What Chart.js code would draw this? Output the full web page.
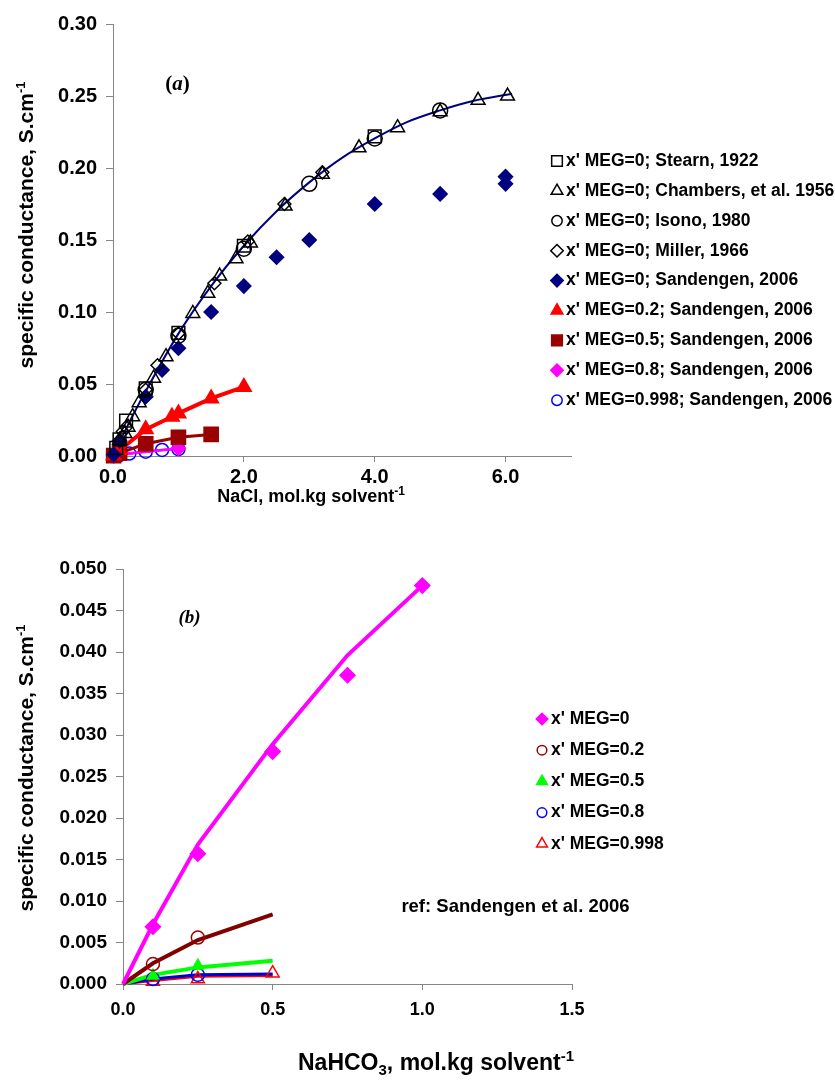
<!DOCTYPE html>
<html>
<head>
<meta charset="utf-8">
<title>Specific conductance of NaCl and NaHCO3 in MEG/water</title>
<script src="https://cdn.jsdelivr.net/npm/chart.js@4.4.1/dist/chart.umd.min.js"></script>
<style>
  body { margin: 0; background: #fff; }
  .panel { position: absolute; left: 0; }
  #panelA { top: 0; }
  #panelB { top: 540px; }
</style>
</head>
<body>
<div class="panel" id="panelA"><canvas id="naclChart" width="835" height="530"></canvas></div>
<div class="panel" id="panelB"><canvas id="bicarbChart" width="835" height="544"></canvas></div>
<script>
// ---- (a) NaCl, x' MEG = 0 literature data ----
const stearnX = [0.05, 0.1, 0.2, 0.5, 1.0, 2.0, 4.0];
const stearnY = [0.0056, 0.0115, 0.0245, 0.047, 0.0855, 0.146, 0.222];
const chambersX = [0.1, 0.18, 0.23, 0.3, 0.4, 0.62, 0.81, 1.22, 1.45, 1.63, 1.88, 2.1, 2.63, 3.2, 3.76, 4.35, 5.0, 5.58, 6.03];
const chambersY = [0.011, 0.0157, 0.020, 0.0273, 0.037, 0.054, 0.069, 0.099, 0.113, 0.125, 0.137, 0.148, 0.1736, 0.1956, 0.214, 0.228, 0.239, 0.247, 0.250];
const isonoX = [0.5, 1.0, 2.0, 3.0, 4.0, 5.0];
const isonoY = [0.046, 0.0835, 0.144, 0.189, 0.2205, 0.240];
const millerX = [0.15, 0.2, 0.5, 0.68, 1.0, 1.55, 2.06, 2.62, 3.2];
const millerY = [0.017, 0.020, 0.046, 0.063, 0.085, 0.120, 0.149, 0.175, 0.197];

// ---- (a) NaCl, Sandengen 2006 ----
const sandMeg0X = [0.01, 0.1, 0.5, 0.75, 1.0, 1.5, 2.0, 2.5, 3.0, 4.0, 5.0, 6.0, 6.0];
const sandMeg0Y = [0.001, 0.0106, 0.0412, 0.0597, 0.0748, 0.100, 0.118, 0.138, 0.150, 0.175, 0.182, 0.194, 0.189];
const sandMeg02X = [0.01, 0.1, 0.5, 0.9, 1.0, 1.5, 2.0];
const sandMeg02Y = [0.0005, 0.004, 0.0185, 0.0273, 0.0296, 0.040, 0.048];
const sandMeg05X = [0.01, 0.1, 0.5, 1.0, 1.5];
const sandMeg05Y = [0.0003, 0.002, 0.0085, 0.013, 0.015];
const sandMeg08X = [0.01, 0.05, 1.0];
const sandMeg08Y = [0.0001, 0.0008, 0.0053];
const sandMeg0998X = [0.01, 0.1, 0.25, 0.5, 0.75, 1.0];
const sandMeg0998Y = [0.0001, 0.0006, 0.0017, 0.003, 0.0042, 0.0048];

// smooth curve through the MEG-free data
const naclFitX = [0, 0.25, 0.5, 1.0, 1.5, 2.0, 2.5, 3.0, 3.5, 4.0, 4.5, 5.0, 5.5, 6.1];
const naclFitY = [0, 0.0235, 0.045, 0.085, 0.118, 0.146, 0.170, 0.190, 0.207, 0.2205, 0.232, 0.240, 0.2465, 0.2515];

// ---- (b) NaHCO3, Sandengen 2006 ----
const hco3Meg0X = [0.1, 0.25, 0.5, 0.75, 1.0];
const hco3Meg0Y = [0.0069, 0.0157, 0.0280, 0.0372, 0.0480];
const hco3SmallX = [0.1, 0.25];
const hco3Meg02Y = [0.0024, 0.0056];
const hco3Meg05Y = [0.0010, 0.0022];
const hco3Meg08Y = [0.0006, 0.0011];
const hco3Meg0998X = [0.1, 0.25, 0.5];
const hco3Meg0998Y = [0.0003, 0.0006, 0.0013];

// model lines for (b)
const hco3Line0X = [0, 0.1, 0.25, 0.5, 0.75, 1.0];
const hco3Line0Y = [0, 0.0072, 0.0168, 0.0289, 0.0396, 0.0480];
const hco3LineX = [0, 0.1, 0.25, 0.5];
const hco3Line02Y = [0, 0.0025, 0.0053, 0.0084];
const hco3Line05Y = [0, 0.0011, 0.0020, 0.0028];
const hco3Line08Y = [0, 0.0006, 0.0011, 0.0012];
const hco3Line0998Y = [0, 0.0004, 0.0009, 0.0010];

const SANS = "'Liberation Sans', Arial, sans-serif";
const SERIF = "'Liberation Serif', 'Times New Roman', serif";
const AXIS_GREY = '#868686';

Chart.defaults.font.family = SANS;
Chart.defaults.color = '#000';

const zip = (xs, ys) => xs.map((x, i) => ({ x, y: ys[i] }));

// marker-only series (open markers have a transparent fill)
const markers = (label, xs, ys, style, radius, fill, stroke) => ({
  label,
  data: zip(xs, ys),
  showLine: false,
  pointStyle: style,
  pointRadius: radius,
  pointBackgroundColor: fill,
  pointBorderColor: stroke,
  pointBorderWidth: 1.5,
  clip: false
});

// series drawn with markers joined by straight segments
const markersWithLine = (label, xs, ys, style, radius, color, width) => ({
  ...markers(label, xs, ys, style, radius, color, color),
  showLine: true,
  borderColor: color,
  borderWidth: width,
  tension: 0
});

// plain line without markers, not listed in the legend
const plainLine = (xs, ys, color, width, smooth) => ({
  label: '',
  data: zip(xs, ys),
  showLine: true,
  pointRadius: 0,
  borderColor: color,
  borderWidth: width,
  cubicInterpolationMode: smooth ? 'monotone' : 'default',
  tension: 0,
  clip: false
});

// legend markers are drawn a little larger for squares/diamonds/triangles
const legendScale = { rect: 1.45, rectRot: 1.2, triangle: 1.3, circle: 1 };

// legend with markers to the right of the plot area
const sideLegend = {
  id: 'sideLegend',
  afterDraw(chart, args, opts) {
    const ctx = chart.ctx;
    ctx.save();
    ctx.font = opts.font;
    ctx.textBaseline = 'middle';
    ctx.textAlign = 'left';
    let y = opts.top;
    chart.data.datasets.forEach(ds => {
      if (!ds.label) return;
      ctx.fillStyle = ds.pointBackgroundColor;
      ctx.strokeStyle = ds.pointBorderColor;
      ctx.lineWidth = 1.5;
      const r = opts.radius * (legendScale[ds.pointStyle] || 1);
      Chart.helpers.drawPoint(ctx, { pointStyle: ds.pointStyle, radius: r, rotation: 0, borderWidth: 1.5 }, opts.markerX, y);
      ctx.fillStyle = '#000';
      ctx.fillText(ds.label, opts.textX, y);
      y += opts.rowGap;
    });
    ctx.restore();
  }
};

// free text placed at data coordinates, made of differently styled parts
const textNotes = {
  id: 'textNotes',
  afterDraw(chart, args, opts) {
    const { ctx, scales } = chart;
    ctx.save();
    ctx.fillStyle = '#000';
    ctx.textBaseline = 'middle';
    ctx.textAlign = 'left';
    (opts.items || []).forEach(note => {
      let px = scales.x.getPixelForValue(note.x);
      const py = scales.y.getPixelForValue(note.y);
      note.parts.forEach(part => {
        ctx.font = part.font;
        ctx.fillText(part.text, px, py);
        px += ctx.measureText(part.text).width;
      });
    });
    ctx.restore();
  }
};

// axis titles with real super/subscripts; cx/cy is the centre of the title
const axisTitles = {
  id: 'axisTitles',
  afterDraw(chart, args, opts) {
    const ctx = chart.ctx;
    (opts.items || []).forEach(t => {
      ctx.save();
      ctx.translate(t.cx, t.cy);
      ctx.rotate(t.rotation || 0);
      ctx.fillStyle = '#000';
      ctx.textAlign = 'left';
      ctx.textBaseline = 'alphabetic';
      let total = 0;
      t.parts.forEach(p => {
        ctx.font = 'bold ' + p.size + 'px ' + SANS;
        total += ctx.measureText(p.text).width;
      });
      let x = -total / 2;
      const base = t.size * 0.36;
      t.parts.forEach(p => {
        ctx.font = 'bold ' + p.size + 'px ' + SANS;
        ctx.fillText(p.text, x, base - (p.rise || 0));
        x += ctx.measureText(p.text).width;
      });
      ctx.restore();
    });
  }
};

const axisStyle = {
  grid: { drawOnChartArea: false, drawTicks: true, tickLength: 6, color: AXIS_GREY, tickColor: AXIS_GREY },
  border: { display: true, color: AXIS_GREY, width: 1 }
};

const condTitle = (cx, cy) => ({
  cx, cy, size: 21, rotation: -Math.PI / 2,
  parts: [{ text: 'specific conductance, S.cm', size: 21 }, { text: '-1', size: 13, rise: 8 }]
});

// (a) NaCl
new Chart(document.getElementById('naclChart'), {
  type: 'scatter',
  data: {
    datasets: [
      markers("x' MEG=0; Stearn, 1922", stearnX, stearnY, 'rect', 9, 'transparent', '#000'),
      markers("x' MEG=0; Chambers, et al. 1956", chambersX, chambersY, 'triangle', 8, 'transparent', '#000'),
      markers("x' MEG=0; Isono, 1980", isonoX, isonoY, 'circle', 7.5, 'transparent', '#000'),
      markers("x' MEG=0; Miller, 1966", millerX, millerY, 'rectRot', 6.5, 'transparent', '#000'),
      markers("x' MEG=0; Sandengen, 2006", sandMeg0X, sandMeg0Y, 'rectRot', 7, '#000080', '#000080'),
      markersWithLine("x' MEG=0.2; Sandengen, 2006", sandMeg02X, sandMeg02Y, 'triangle', 8.5, '#ff0000', 4),
      markersWithLine("x' MEG=0.5; Sandengen, 2006", sandMeg05X, sandMeg05Y, 'rect', 10, '#990000', 3),
      markersWithLine("x' MEG=0.8; Sandengen, 2006", sandMeg08X, sandMeg08Y, 'rectRot', 7, '#ff00ff', 3),
      { ...markersWithLine("x' MEG=0.998; Sandengen, 2006", sandMeg0998X, sandMeg0998Y, 'circle', 6.5, '#0000ff', 2),
        pointBackgroundColor: 'transparent' },
      plainLine(naclFitX, naclFitY, '#000080', 2, true)
    ]
  },
  options: {
    responsive: false,
    animation: false,
    devicePixelRatio: 1,
    events: [],
    layout: { padding: { top: 24, right: 264, bottom: 0, left: 0 } },
    plugins: {
      legend: { display: false },
      tooltip: { enabled: false },
      sideLegend: { font: 'bold 17.5px ' + SANS, markerX: 557, textX: 566, top: 161, rowGap: 29.9, radius: 5.2 },
      textNotes: {
        items: [{ x: 0.8, y: 0.258, parts: [
          { text: '(', font: 'bold 21px ' + SERIF },
          { text: 'a', font: 'italic bold 21px ' + SERIF },
          { text: ')', font: 'bold 21px ' + SERIF }
        ] }]
      },
      axisTitles: {
        items: [
          condTitle(25, 225),
          { cx: 311, cy: 496, size: 18,
            parts: [{ text: 'NaCl, mol.kg solvent', size: 18 }, { text: '-1', size: 12, rise: 7 }] }
        ]
      }
    },
    scales: {
      x: {
        type: 'linear',
        min: 0,
        max: 7,
        ...axisStyle,
        ticks: { stepSize: 2, includeBounds: false, padding: 3, font: { size: 20, weight: 'bold' },
                 callback: v => v.toFixed(1) },
        afterFit: s => { s.height = 74; }
      },
      y: {
        type: 'linear',
        min: 0,
        max: 0.3,
        ...axisStyle,
        grid: { ...axisStyle.grid, tickLength: 7 },
        ticks: { stepSize: 0.05, padding: 9, font: { size: 20, weight: 'bold' },
                 callback: v => v.toFixed(2) },
        afterFit: s => { s.width = 113; }
      }
    }
  },
  plugins: [sideLegend, textNotes, axisTitles]
});

// (b) NaHCO3
new Chart(document.getElementById('bicarbChart'), {
  type: 'scatter',
  data: {
    datasets: [
      markers("x' MEG=0", hco3Meg0X, hco3Meg0Y, 'rectRot', 7.5, '#ff00ff', '#ff00ff'),
      markers("x' MEG=0.2", hco3SmallX, hco3Meg02Y, 'circle', 6.5, 'transparent', '#990000'),
      markers("x' MEG=0.5", hco3SmallX, hco3Meg05Y, 'triangle', 6.5, '#00ff00', '#00ff00'),
      markers("x' MEG=0.8", hco3SmallX, hco3Meg08Y, 'circle', 6.5, 'transparent', '#0000ff'),
      markers("x' MEG=0.998", hco3Meg0998X, hco3Meg0998Y, 'triangle', 7.5, 'transparent', '#ff0000'),
      plainLine(hco3Line0X, hco3Line0Y, '#ff00ff', 4, false),
      plainLine(hco3LineX, hco3Line02Y, '#800000', 4, false),
      plainLine(hco3LineX, hco3Line05Y, '#00ff00', 4, false),
      plainLine(hco3LineX, hco3Line08Y, '#0000cc', 3, false),
      plainLine(hco3LineX, hco3Line0998Y, '#ff0000', 2.5, false)
    ]
  },
  options: {
    responsive: false,
    animation: false,
    devicePixelRatio: 1,
    events: [],
    layout: { padding: { top: 29, right: 263, bottom: 0, left: 0 } },
    plugins: {
      legend: { display: false },
      tooltip: { enabled: false },
      sideLegend: { font: 'bold 17.5px ' + SANS, markerX: 542, textX: 551, top: 179, rowGap: 31.2, radius: 4.8 },
      textNotes: {
        items: [
          { x: 0.185, y: 0.0441, parts: [{ text: '(b)', font: 'italic bold 19px ' + SERIF }] },
          { x: 0.93, y: 0.0093, parts: [{ text: 'ref: Sandengen et al. 2006', font: 'bold 18.5px ' + SANS }] }
        ]
      },
      axisTitles: {
        items: [
          condTitle(25, 228),
          { cx: 436, cy: 522, size: 23,
            parts: [
              { text: 'NaHCO', size: 23 },
              { text: '3', size: 15, rise: -5 },
              { text: ', mol.kg solvent', size: 23 },
              { text: '-1', size: 15, rise: 9 }
            ] }
        ]
      }
    },
    scales: {
      x: {
        type: 'linear',
        min: 0,
        max: 1.5,
        ...axisStyle,
        ticks: { stepSize: 0.5, includeBounds: false, padding: 9, font: { size: 18, weight: 'bold' },
                 callback: v => v.toFixed(1) },
        afterFit: s => { s.height = 100; }
      },
      y: {
        type: 'linear',
        min: 0,
        max: 0.05,
        ...axisStyle,
        grid: { ...axisStyle.grid, tickLength: 7 },
        ticks: { stepSize: 0.005, padding: 9, font: { size: 19, weight: 'bold' },
                 callback: v => v.toFixed(3) },
        afterFit: s => { s.width = 123; }
      }
    }
  },
  plugins: [sideLegend, textNotes, axisTitles]
});
</script>
</body>
</html>
